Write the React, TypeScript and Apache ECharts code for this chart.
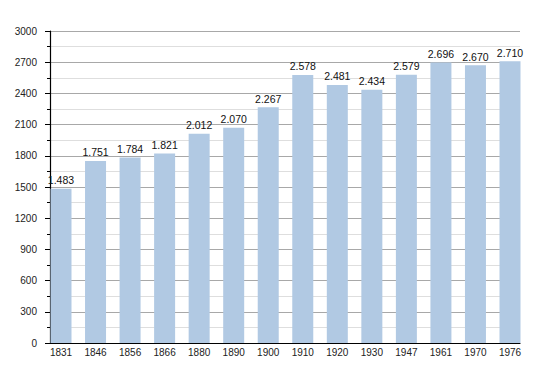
import React, { useEffect, useRef } from "react";
import * as echarts from "echarts";

const years = ["1831", "1846", "1856", "1866", "1880", "1890", "1900", "1910", "1920", "1930", "1947", "1961", "1970", "1976"];
const population = [1483, 1751, 1784, 1821, 2012, 2070, 2267, 2578, 2481, 2434, 2579, 2696, 2670, 2710];
const yMin = 0;
const yMax = 3000;
const yStep = 300;

const fmt = (v: number) => String(v).replace(/\B(?=(\d{3})+(?!\d))/g, ".");

export default function App() {
  const ref = useRef<HTMLDivElement>(null);
  useEffect(() => {
    if (!ref.current) return;
    const chart = echarts.init(ref.current, null, { renderer: "svg" });
    const font = "'Liberation Sans', Arial, Helvetica, sans-serif";
    chart.setOption({
      animation: false,
      backgroundColor: "#ffffff",
      grid: [
        { left: 50, right: 30, top: 31, bottom: 30 },
        { left: 61, right: 40, top: 31, bottom: 30 },
      ],
      xAxis: [
        {
          type: "category",
          gridIndex: 0,
          data: years,
          axisLine: { show: true, lineStyle: { color: "#000", width: 1.2 } },
          axisTick: { show: false },
          axisLabel: { show: false },
          splitLine: { show: false },
          z: 1,
        },
        {
          type: "category",
          gridIndex: 1,
          data: years,
          boundaryGap: false,
          axisLine: { show: false },
          axisTick: { show: false },
          axisLabel: { show: true, margin: 4, color: "#222", fontFamily: font, fontSize: 10, interval: 0 },
          splitLine: { show: false },
        },
      ],
      yAxis: [
        {
          type: "value",
          gridIndex: 0,
          min: yMin,
          max: yMax,
          interval: yStep,
          axisLine: { show: true, lineStyle: { color: "#000", width: 1.2 } },
          axisTick: { show: true, length: 5, lineStyle: { color: "#000" } },
          minorTick: { show: true, splitNumber: 2, length: 3, lineStyle: { color: "#000" } },
          axisLabel: { margin: 13, color: "#222", fontFamily: font, fontSize: 10, formatter: (v: number) => String(v) },
          splitLine: { show: true, lineStyle: { color: "#a8a8a8", width: 1 } },
          minorSplitLine: { show: true, lineStyle: { color: "#dedede", width: 1 } },
          z: 1,
        },
        {
          type: "value",
          gridIndex: 1,
          min: yMin,
          max: yMax,
          interval: yStep,
          show: false,
          splitLine: { show: false },
        },
      ],
      series: [
        {
          type: "bar",
          xAxisIndex: 1,
          yAxisIndex: 1,
          data: population,
          barWidth: 21,
          itemStyle: { color: "#b1c9e3" },
          label: {
            show: true,
            position: "top",
            distance: 3,
            color: "#111",
            fontFamily: font,
            fontSize: 10.5,
            formatter: (p: any) => fmt(p.value),
          },
          z: 3,
        },
      ],
    });
    return () => chart.dispose();
  }, []);
  return <div ref={ref} style={{ width: 550, height: 373, position: "absolute", left: 0, top: 0 }} />;
}
